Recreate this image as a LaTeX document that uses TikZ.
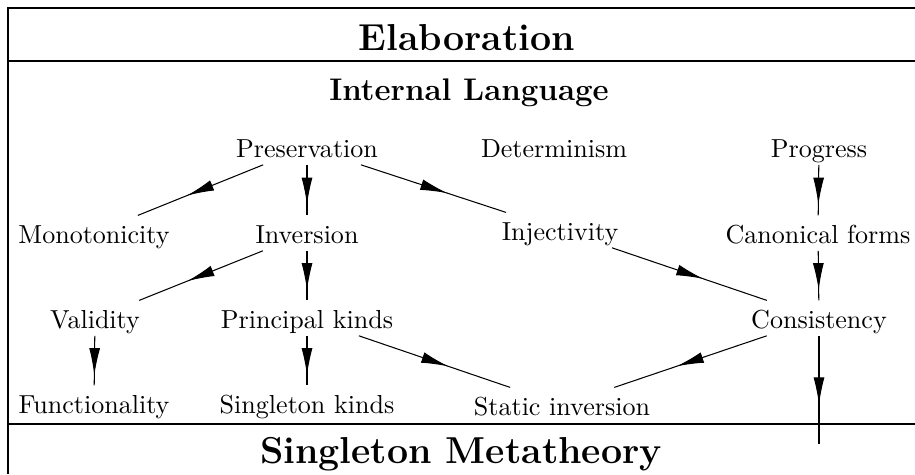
\documentclass[tikz,border=0pt]{standalone}
\usepackage{tikz}
\usetikzlibrary{arrows.meta}
\usetikzlibrary{decorations.markings}

\begin{document}
\begin{tikzpicture}[x=0.384pt,y=-0.384pt]
\tikzset{lemma/.style={anchor=base,text height=8pt,text depth=0.4pt,inner ysep=2.4pt}}
\tikzset{head/.style={anchor=base,font=\Large\bfseries}}
\tikzset{frame/.style={line width=0.5pt}}
\tikzset{dep/.style={postaction={decorate},
  decoration={markings,mark=at position 0.5 with {\pgftransformxshift{5.6pt}\arrow{Latex[length=10.4pt,width=4.2pt]}}}}}
\useasboundingbox (0,0) rectangle (915,474);
% frame and layers
\draw[frame] (915,8) -- (8,8) -- (8,474);
\draw[frame] (8,61) -- (915,61);
\draw[frame] (8,424) -- (915,424);
\node[head] (elab) at (467,50) {Elaboration};
\node[head,font=\large\bfseries] (il) at (469,100) {Internal Language};
\node[head] (smeta) at (461,463) {Singleton Metatheory};
% lemmas
\node[lemma] (pres) at (307,157) {Preservation};
\node[lemma] (det) at (554,157) {Determinism};
\node[lemma] (prog) at (819,157) {Progress};
\node[lemma] (mono) at (94,243) {Monotonicity};
\node[lemma] (inv) at (307,243) {Inversion};
\node[lemma] (inj) at (560,240) {Injectivity};
\node[lemma] (canon) at (818,243) {Canonical forms};
\node[lemma] (valid) at (95,328) {Validity};
\node[lemma] (princ) at (307,328) {Principal kinds};
\node[lemma] (cons) at (819,328) {Consistency};
\node[lemma] (func) at (94,413) {Functionality};
\node[lemma] (single) at (307,413) {Singleton kinds};
\node[lemma] (static) at (562,415) {Static inversion};
\coordinate (sink) at (819,444);
% dependencies
\draw[dep] (pres) -- (mono);
\draw[dep] (pres) -- (inv);
\draw[dep] (pres) -- (inj);
\draw[dep] (prog) -- (canon);
\draw[dep] (inv) -- (valid);
\draw[dep] (inv) -- (princ);
\draw[dep] (inj) -- (cons);
\draw[dep] (canon) -- (cons);
\draw[dep] (valid) -- (func);
\draw[dep] (princ) -- (single);
\draw[dep] (princ) -- (static);
\draw[dep] (cons) -- (static);
\draw[dep] (cons) -- (sink);
\end{tikzpicture}
\end{document}
